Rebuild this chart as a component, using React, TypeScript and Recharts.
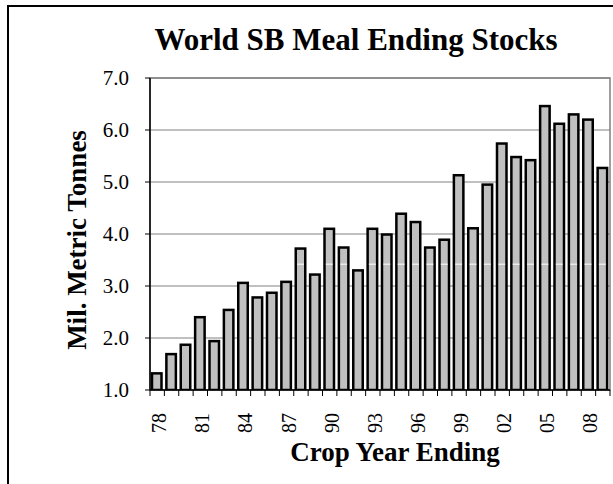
import React from 'react';
import { BarChart, Bar, XAxis, YAxis, CartesianGrid, ReferenceArea } from 'recharts';

const years = ['78','79','80','81','82','83','84','85','86','87','88','89','90','91','92','93','94','95','96','97','98','99','00','01','02','03','04','05','06','07','08','09'];
const stocks = [1.32,1.69,1.87,2.40,1.94,2.54,3.06,2.78,2.87,3.08,3.72,3.22,4.10,3.74,3.30,4.10,3.99,4.39,4.23,3.74,3.89,5.13,4.11,4.95,5.74,5.48,5.42,6.46,6.12,6.30,6.20,5.27];
const yTicks = [1, 2, 3, 4, 5, 6, 7];
const labelEvery = 3;
const whiteLineValue = 3.42;

const title = 'World SB Meal Ending Stocks';
const yTitle = 'Mil. Metric Tonnes';
const xTitle = 'Crop Year Ending';

const data = years.map((y, i) => ({ year: y, value: stocks[i] }));

const FONT = '"Liberation Serif", "Times New Roman", Times, serif';
const W = 613;
const H = 484;
const M = { top: 78, right: 3, left: 0, bottom: 0 };
const Y_W = 150;
const X_H = 94;
const STEP = (W - M.left - M.right - Y_W) / years.length;
const BASE = yTicks[0];

const XTick = (props: any) => {
  const { x, y, payload, index } = props;
  const i = payload && payload.index !== undefined ? payload.index : index;
  const left = x - STEP / 2;
  const isLast = i === years.length - 1;
  return (
    <g>
      <line x1={left} x2={left} y1={y} y2={y + 6} stroke="#000" strokeWidth={1} />
      {isLast && <line x1={x + STEP / 2} x2={x + STEP / 2} y1={y} y2={y + 6} stroke="#000" strokeWidth={1} />}
      {i % labelEvery === 0 && (
        <text
          x={x + 9}
          y={y + 23}
          transform={`rotate(-90, ${x + 9}, ${y + 23})`}
          textAnchor="end"
          fontSize={20}
          fontFamily={FONT}
          fill="#000"
        >
          {payload.value}
        </text>
      )}
    </g>
  );
};

const BarShape = (props: any) => {
  const { x, y, width, height, value } = props;
  const v = Array.isArray(value) ? value[1] : value;
  const perUnit = v > BASE ? height / (v - BASE) : 0;
  const wy = y + height - (whiteLineValue - BASE) * perUnit;
  const showLine = v > whiteLineValue;
  return (
    <g>
      <rect x={x} y={y} width={width} height={height} fill="#C0C0C0" stroke="#000" strokeWidth={2.5} />
      {showLine && <line x1={x + 1.25} x2={x + width - 1.25} y1={wy} y2={wy} stroke="#fff" strokeWidth={1} />}
    </g>
  );
};

export default function App() {
  return (
    <div style={{ position: 'fixed', left: 0, top: 0, width: W, height: H, overflow: 'hidden', background: '#fff' }}>
      <div style={{ position: 'absolute', left: 7, top: 5, width: 700, height: 600, borderLeft: '2px solid #000', borderTop: '2px solid #000' }} />
      <div style={{ position: 'absolute', left: 0, top: 0 }}>
        <BarChart width={W} height={H} data={data} margin={M} barSize={9.5}>
          <CartesianGrid horizontal vertical={false} stroke="#808080" strokeWidth={1} />
          <ReferenceArea x1={years[0]} x2={years[years.length - 1]} y1={yTicks[0]} y2={yTicks[yTicks.length - 1]} fill="none" stroke="#808080" strokeWidth={1.5} />
          <XAxis
            dataKey="year"
            interval={0}
            height={X_H}
            tickLine={false}
            tickSize={0}
            tickMargin={0}
            axisLine={{ stroke: '#000', strokeWidth: 1.5 }}
            tick={(p: any) => <XTick {...p} />}
          />
          <YAxis
            width={Y_W}
            domain={[yTicks[0], yTicks[yTicks.length - 1]]}
            ticks={yTicks}
            allowDataOverflow
            tickFormatter={(v: number) => v.toFixed(1)}
            tickSize={5}
            tickMargin={16}
            tickLine={{ stroke: '#000' }}
            axisLine={{ stroke: '#000', strokeWidth: 1.5 }}
            tick={{ fill: '#000', fontSize: 21, fontFamily: FONT }}
          />
          <Bar dataKey="value" fill="#C0C0C0" stroke="#000" strokeWidth={2.5} isAnimationActive={false} shape={(p: any) => <BarShape {...p} />} />
        </BarChart>
      </div>
      <svg width={W} height={H} style={{ position: 'absolute', left: 0, top: 0, pointerEvents: 'none' }}>
        <text x={356} y={50} textAnchor="middle" fontSize={31} fontWeight="bold" fontFamily={FONT} fill="#000">{title}</text>
        <text x={395} y={461} textAnchor="middle" fontSize={27} fontWeight="bold" fontFamily={FONT} fill="#000">{xTitle}</text>
        <text x={86} y={240} transform="rotate(-90, 86, 240)" textAnchor="middle" fontSize={27} fontWeight="bold" fontFamily={FONT} fill="#000">{yTitle}</text>
      </svg>
    </div>
  );
}
